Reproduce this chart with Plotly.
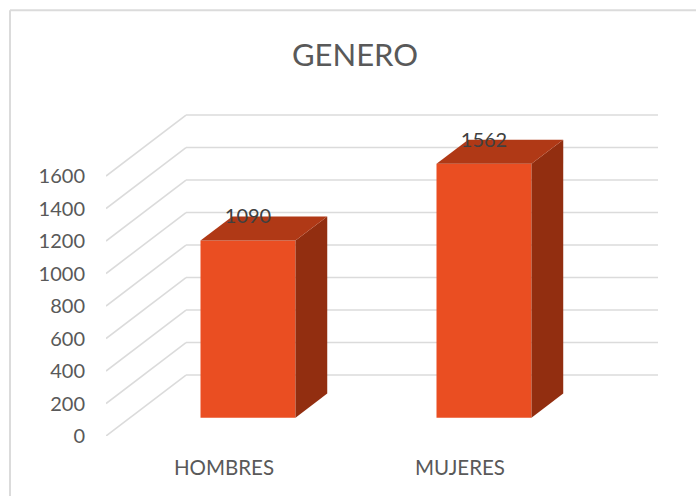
import plotly.graph_objects as go

categories = ["HOMBRES", "MUJERES"]
values = [1090, 1562]
y_ticks = [0, 200, 400, 600, 800, 1000, 1200, 1400, 1600]
title_text = "GENERO"

FRONT, TOP, SIDE = "#EA4E22", "#B03916", "#922E10"
GRID, TEXT = "#DBDBDB", "#595959"
FONT = "Lato"

# Oblique projection, in axis units
L, R, T, B = 106, 38, 110.7, 60.3
W, H = 696, 496
WALL_DX, WALL_DY = 0.339, 375     # floor front -> back wall
BAR_DX, BAR_DY = 0.1017, 113      # floor front -> bar front
SIDE_DX, SIDE_DY = 0.1345, 148    # bar front -> bar back
BAR_W = 0.4025
X_MIN, X_MAX = -0.5, 1.839
Y_MAX = 2000
LABEL_DY = -12

xs = list(range(len(categories)))
fig = go.Figure()

# Walls
shapes = []
for t in y_ticks:
    shapes.append(dict(type="line", layer="below", xref="x", yref="y",
                       x0=X_MIN, y0=t, x1=X_MIN + WALL_DX, y1=t + WALL_DY,
                       line=dict(color=GRID, width=1.6)))
    shapes.append(dict(type="line", layer="below", xref="x", yref="y",
                       x0=X_MIN + WALL_DX, y0=t + WALL_DY, x1=X_MAX, y1=t + WALL_DY,
                       line=dict(color=GRID, width=1.6)))

# Chart frame
px = lambda p: (p - L) / (W - L - R)
py = lambda p: 1 - (p - T) / (H - T - B)
shapes.append(dict(type="line", xref="paper", yref="paper", x0=px(10), x1=px(696),
                   y0=py(10), y1=py(10), line=dict(color=GRID, width=2)))
shapes.append(dict(type="line", xref="paper", yref="paper", x0=px(10), x1=px(10),
                   y0=py(10), y1=py(496), line=dict(color=GRID, width=2)))

# Front faces
fig.add_trace(go.Bar(x=[i + BAR_DX for i in xs], y=values, base=[BAR_DY] * len(values),
                     width=BAR_W, marker=dict(color=FRONT, line=dict(width=0)),
                     showlegend=False))

# Side and top faces
for i, v in zip(xs, values):
    x0 = i + BAR_DX - BAR_W / 2
    x1 = i + BAR_DX + BAR_W / 2
    y0, y1 = BAR_DY, BAR_DY + v
    fig.add_trace(go.Scatter(
        x=[x1, x1 + SIDE_DX, x1 + SIDE_DX, x1, x1],
        y=[y0, y0 + SIDE_DY, y1 + SIDE_DY, y1, y0],
        mode="lines", fill="toself", fillcolor=SIDE, line=dict(width=0),
        showlegend=False, hoverinfo="skip"))
    fig.add_trace(go.Scatter(
        x=[x0, x1, x1 + SIDE_DX, x0 + SIDE_DX, x0],
        y=[y1, y1, y1 + SIDE_DY, y1 + SIDE_DY, y1],
        mode="lines", fill="toself", fillcolor=TOP, line=dict(width=0),
        showlegend=False, hoverinfo="skip"))

# Data labels
fig.add_trace(go.Scatter(
    x=[i + BAR_DX for i in xs],
    y=[BAR_DY + v + SIDE_DY + LABEL_DY for v in values],
    mode="text", text=[str(v) for v in values], textposition="middle center",
    textfont=dict(family=FONT, size=20, color="#404040"),
    showlegend=False, hoverinfo="skip"))

fig.update_layout(
    width=W, height=H, autosize=False,
    margin=dict(l=L, r=R, t=T, b=B, pad=0),
    paper_bgcolor="white", plot_bgcolor="rgba(0,0,0,0)",
    shapes=shapes,
    title=dict(text=title_text, x=355 / W, xanchor="center", y=1 - 55 / H, yanchor="middle",
               font=dict(family=FONT, size=31, color=TEXT)),
    xaxis=dict(range=[X_MIN, X_MAX], tickmode="array", tickvals=xs, ticktext=categories,
               showgrid=False, zeroline=False, showline=False, ticks="",
               ticklabelstandoff=17, tickfont=dict(family=FONT, size=20.5, color=TEXT)),
    yaxis=dict(range=[0, Y_MAX], tickmode="array", tickvals=y_ticks,
               showgrid=False, zeroline=False, showline=False, ticks="",
               ticklabelstandoff=20, tickfont=dict(family=FONT, size=20, color=TEXT)),
)

fig.write_html("out.html", config={"displayModeBar": False},
               post_script="document.body.style.margin='0';")
